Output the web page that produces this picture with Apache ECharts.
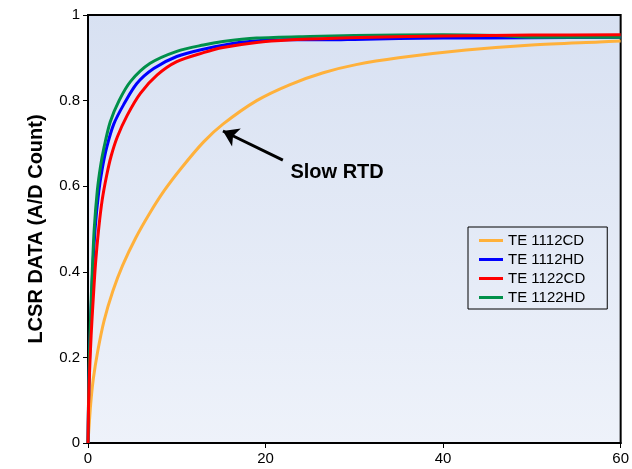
<!DOCTYPE html>
<html>
<head>
<meta charset="utf-8">
<script src="https://cdn.jsdelivr.net/npm/echarts@6/dist/echarts.min.js"></script>
<style>
html,body{margin:0;padding:0;background:#fff;}
#chart{width:632px;height:469px;}
</style>
</head>
<body>
<div id="chart"></div>
<script>
// ---- data ----
const seriesNames = ['TE 1112CD', 'TE 1112HD', 'TE 1122CD', 'TE 1122HD'];

const cd1112X = [0, 0.3, 0.6, 1.1, 1.8, 2.8, 3.9, 5.4, 6.9, 8.6, 10.5, 13, 15.2, 19, 22.7, 26.5, 30.2, 35, 42.6, 50, 57.6, 60];
const cd1112Y = [0, 0.09, 0.15, 0.215, 0.285, 0.355, 0.415, 0.48, 0.535, 0.59, 0.642, 0.703, 0.745, 0.80, 0.837, 0.865, 0.884, 0.900, 0.918, 0.930, 0.937, 0.939];

const hd1112X = [0, 0.1, 0.3, 0.5, 0.8, 1.2, 1.6, 2.1, 2.9, 4.0, 5.5, 7.4, 10, 13, 17, 22, 27, 30, 35, 40, 50, 60];
const hd1112Y = [0, 0.14, 0.28, 0.39, 0.5, 0.585, 0.64, 0.69, 0.745, 0.79, 0.84, 0.875, 0.903, 0.92, 0.936, 0.942, 0.942, 0.943, 0.945, 0.946, 0.947, 0.948];

const cd1122X = [0, 0.1, 0.35, 0.6, 0.85, 1.2, 1.6, 2.1, 2.6, 3.3, 4.4, 5.9, 7.8, 10, 13, 15.2, 19, 23, 27, 32, 40, 50, 60];
const cd1122Y = [0, 0.12, 0.25, 0.34, 0.42, 0.5, 0.568, 0.625, 0.67, 0.715, 0.765, 0.817, 0.86, 0.891, 0.912, 0.924, 0.936, 0.942, 0.945, 0.948, 0.951, 0.953, 0.954];

const hd1122X = [0, 0.1, 0.3, 0.5, 0.7, 1.05, 1.4, 1.8, 2.5, 3.5, 4.8, 7, 10, 13, 15.2, 19, 25, 30, 40, 46, 50, 60];
const hd1122Y = [0, 0.15, 0.3, 0.41, 0.5, 0.59, 0.645, 0.69, 0.75, 0.80, 0.845, 0.887, 0.915, 0.93, 0.938, 0.946, 0.95, 0.952, 0.954, 0.952, 0.948, 0.948];

const xTicks = [0, 20, 40, 60];
const yTicks = [0, 0.2, 0.4, 0.6, 0.8, 1];

// ---- build ----
function pairs(xs, ys) { return xs.map((x, i) => [x, ys[i]]); }

const colors = ['#FFB13B', '#0000FF', '#FF0000', '#00904A'];
const dataSets = [pairs(cd1112X, cd1112Y), pairs(hd1112X, hd1112Y), pairs(cd1122X, cd1122Y), pairs(hd1122X, hd1122Y)];
const zs = [2, 3, 5, 4];

const font = 'Arial, "Liberation Sans", Helvetica, sans-serif';

const series = seriesNames.map((name, i) => {
  const s = {
    name: name,
    type: 'line',
    data: dataSets[i],
    symbol: 'none',
    smooth: 0.3,
    z: zs[i],
    lineStyle: { color: colors[i], width: 3 },
    itemStyle: { color: colors[i] },
    animation: false
  };
  if (i === 0) {
    s.markLine = {
      silent: true,
      animation: false,
      symbol: ['none', 'arrow'],
      symbolSize: 15,
      label: { show: false },
      lineStyle: { color: '#000', width: 3, type: 'solid' },
      data: [[{ coord: [21.95, 0.661] }, { coord: [15.2, 0.729] }]]
    };
    s.markPoint = {
      silent: true,
      animation: false,
      symbol: 'circle',
      symbolSize: 0,
      label: {
        show: true,
        position: 'right',
        distance: 0,
        formatter: 'Slow RTD',
        color: '#000',
        fontFamily: font,
        fontWeight: 'bold',
        fontSize: 20
      },
      data: [{ coord: [22.8, 0.632] }]
    };
  }
  return s;
});

const chart = echarts.init(document.getElementById('chart'), null, { renderer: 'canvas' });
chart.setOption({
  animation: false,
  backgroundColor: '#ffffff',
  grid: {
    left: 88, right: 11, top: 15, bottom: 26,
    show: true,
    borderColor: '#000',
    borderWidth: 2,
    backgroundColor: new echarts.graphic.LinearGradient(0, 0, 0, 1, [
      { offset: 0, color: '#D8E1F2' },
      { offset: 1, color: '#EEF2FA' }
    ])
  },
  legend: {
    data: seriesNames,
    orient: 'vertical',
    left: 468,
    top: 227,
    padding: [6, 22, 4, 11],
    itemGap: 4,
    itemWidth: 24,
    itemHeight: 3,
    icon: 'rect',
    borderColor: '#000',
    borderWidth: 1,
    backgroundColor: 'transparent',
    textStyle: { fontFamily: font, fontSize: 15, color: '#000' }
  },
  xAxis: {
    type: 'value',
    min: xTicks[0],
    max: xTicks[xTicks.length - 1],
    interval: xTicks[1] - xTicks[0],
    axisLine: { show: true, lineStyle: { color: '#000', width: 2 } },
    axisTick: { show: true, length: 5, lineStyle: { color: '#000', width: 1 } },
    axisLabel: { margin: 8, fontFamily: font, fontSize: 15, color: '#000' },
    splitLine: { show: false }
  },
  yAxis: {
    type: 'value',
    min: yTicks[0],
    max: yTicks[yTicks.length - 1],
    interval: 0.2,
    name: 'LCSR DATA (A/D Count)',
    nameLocation: 'middle',
    nameGap: 42,
    nameTextStyle: { fontFamily: font, fontSize: 20, fontWeight: 'bold', color: '#000' },
    axisLine: { show: true, lineStyle: { color: '#000', width: 2 } },
    axisTick: { show: true, length: 5, lineStyle: { color: '#000', width: 1 } },
    axisLabel: { margin: 8, fontFamily: font, fontSize: 15, color: '#000' },
    splitLine: { show: false }
  },
  series: series
});
</script>
</body>
</html>
